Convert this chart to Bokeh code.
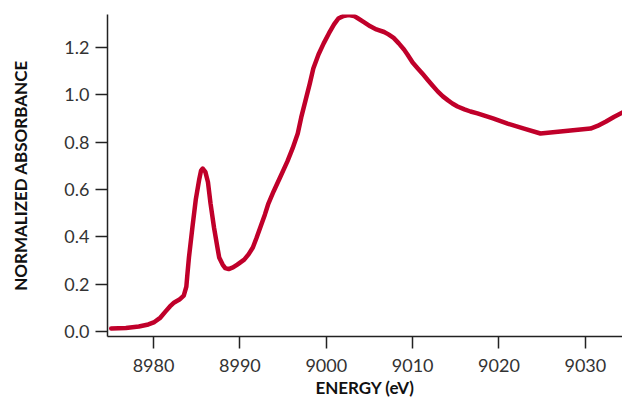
from bokeh.plotting import figure
from bokeh.models import Range1d, FixedTicker, CustomJSTickFormatter
from bokeh.embed import file_html
from bokeh.resources import INLINE

energy = [8975.1, 8976.8, 8978.3, 8979.4, 8980.1, 8980.8, 8981.4, 8981.9, 8982.4, 8983.0,
          8983.5, 8983.8, 8983.9, 8984.1, 8984.5, 8984.9, 8985.3, 8985.5, 8985.7, 8986.0,
          8986.3, 8986.6, 8987.0, 8987.4, 8987.6, 8988.0, 8988.3, 8988.7, 8989.2, 8989.7,
          8990.5, 8991.0, 8991.5, 8991.9, 8992.4, 8992.9, 8993.3, 8993.9, 8994.7, 8995.5,
          8996.1, 8996.7, 8997.1, 8997.6, 8998.1, 8998.5, 8999.1, 8999.7, 9000.3, 9000.9,
          9001.4, 9002.0, 9002.6, 9003.2, 9003.7, 9004.4, 9005.1, 9005.8, 9006.7, 9007.2,
          9007.8, 9008.4, 9009.0, 9009.4, 9010.0, 9010.6, 9011.2, 9011.8, 9012.3, 9012.9,
          9013.5, 9014.1, 9014.6, 9015.2, 9016.0, 9016.7, 9017.5, 9019.3, 9021.0, 9022.9,
          9024.8, 9027.7, 9030.6, 9031.4, 9032.4, 9033.3, 9034.3]
absorbance = [0.013, 0.015, 0.021, 0.030, 0.040, 0.059, 0.085, 0.106, 0.123, 0.135,
              0.152, 0.190, 0.233, 0.313, 0.440, 0.560, 0.645, 0.680, 0.689, 0.675,
              0.632, 0.541, 0.440, 0.355, 0.313, 0.283, 0.268, 0.264, 0.271, 0.283,
              0.304, 0.326, 0.355, 0.393, 0.444, 0.495, 0.541, 0.592, 0.655, 0.719,
              0.774, 0.837, 0.905, 0.977, 1.049, 1.112, 1.171, 1.218, 1.260, 1.298,
              1.323, 1.334, 1.338, 1.334, 1.323, 1.307, 1.290, 1.277, 1.266, 1.256,
              1.241, 1.218, 1.192, 1.171, 1.137, 1.112, 1.087, 1.061, 1.040, 1.015,
              0.994, 0.977, 0.964, 0.951, 0.939, 0.930, 0.922, 0.901, 0.879, 0.858,
              0.837, 0.848, 0.858, 0.869, 0.888, 0.907, 0.926]
x_ticks = [8980, 8990, 9000, 9010, 9020, 9030]
y_ticks = [0.0, 0.2, 0.4, 0.6, 0.8, 1.0, 1.2]
x_title = "ENERGY (eV)"
y_title = "NORMALIZED ABSORBANCE"

FONT = "Lato"

p = figure(width=622, height=403, output_backend="svg", toolbar_location=None,
           x_range=Range1d(8974.67, 9034.3), y_range=Range1d(-0.021, 1.34),
           min_border_left=107, min_border_right=0, min_border_top=14, min_border_bottom=67)
p.outline_line_color = None
p.grid.visible = False
p.background_fill_color = "white"
p.border_fill_color = "white"

p.line(energy, absorbance, line_color="#C0002A", line_width=4.5, line_join="round", line_cap="round")

for ax in (p.xaxis[0], p.yaxis[0]):
    ax.axis_line_color = "#222222"
    ax.axis_line_width = 1.5
    ax.major_tick_line_color = "#222222"
    ax.major_tick_line_width = 1.5
    ax.major_tick_in = 0
    ax.major_tick_out = 12
    ax.minor_tick_line_color = None
    ax.major_label_text_font = FONT
    ax.major_label_text_font_size = "18px"
    ax.major_label_text_color = "#333333"
    ax.axis_label_text_font = FONT
    ax.axis_label_text_font_style = "bold"
    ax.axis_label_text_font_size = "17px"
    ax.axis_label_text_color = "#111111"

p.xaxis.ticker = FixedTicker(ticks=x_ticks)
p.yaxis.ticker = FixedTicker(ticks=y_ticks)
p.yaxis.formatter = CustomJSTickFormatter(code="return tick.toFixed(1);")
p.xaxis.axis_label = x_title
p.yaxis.axis_label = y_title
p.xaxis.major_label_standoff = 10
p.yaxis.major_label_standoff = 6
p.xaxis.axis_label_standoff = 2
p.yaxis.axis_label_standoff = 30

open("out.html", "w").write(file_html(p, INLINE))
